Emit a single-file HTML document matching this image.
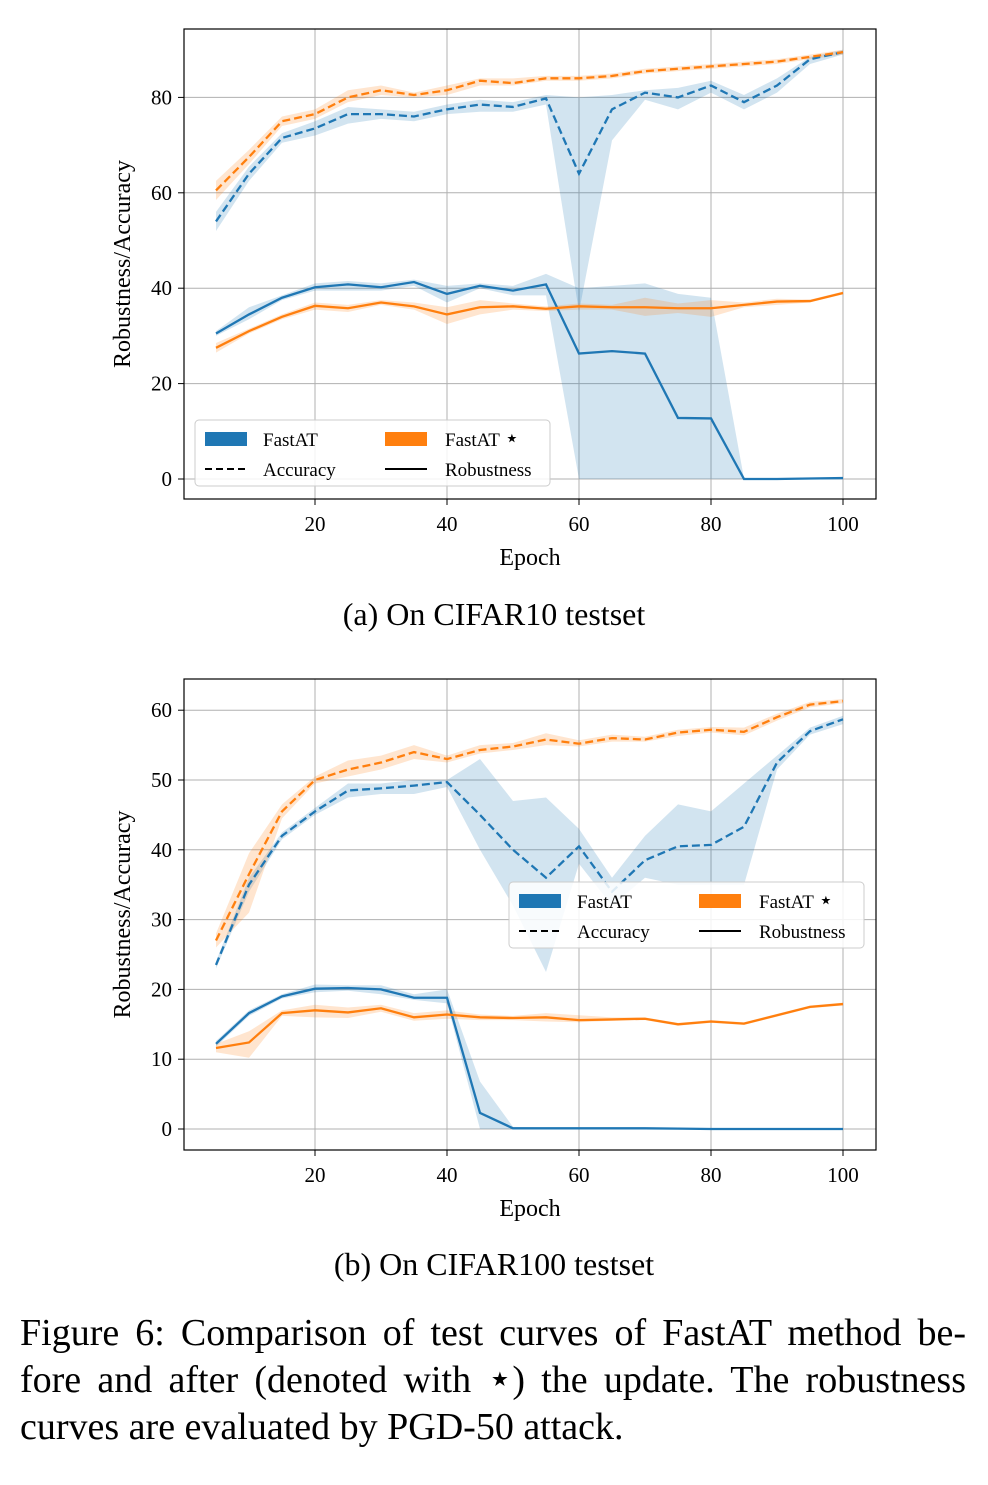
<!DOCTYPE html>
<html><head><meta charset="utf-8"><style>
body{margin:0;background:#fff;width:988px;height:1485px;overflow:hidden;font-family:"Liberation Serif",serif}
svg{position:absolute;left:0;top:0}
.cap{position:absolute;left:0;width:988px;text-align:center;font-size:32px}
#fig{position:absolute;left:20px;top:1310px;width:946px;font-size:38px;line-height:47px}
#fig div{text-align:justify;text-align-last:justify;white-space:nowrap}
#fig div.last{text-align-last:left}
.star{font-size:40px;line-height:0}
</style></head><body>
<svg id="svg" width="988" height="1300"></svg>
<div class="cap" style="top:596px">(a) On CIFAR10 testset</div>
<div class="cap" style="top:1246px">(b) On CIFAR100 testset</div>
<div id="fig">
<div>Figure 6: Comparison of test curves of FastAT method be-</div>
<div>fore and after (denoted with <span class="star">⋆</span>) the update. The robustness</div>
<div class="last">curves are evaluated by PGD-50 attack.</div>
</div>
<script>
const epochs=[5,10,15,20,25,30,35,40,45,50,55,60,65,70,75,80,85,90,95,100];
// Chart A (CIFAR10)
const aFastAcc=[54,64,71.5,73.5,76.5,76.5,76,77.5,78.5,78,79.8,64,77.5,81,80,82.5,79,82.5,88,89.5];
const aFastAccLo=[52,62.5,70.5,72,74.5,75.5,75,76.5,77,77,78.5,35,71,79.5,77.5,81,77.5,81,87,89];
const aFastAccHi=[56,65.5,72.5,75,78,77.5,77,78.5,79.5,79,80.5,80,80.5,81.5,82,83.5,80.5,84,88.5,90];
const aStarAcc=[60.5,67.5,75,76.5,80,81.5,80.5,81.5,83.5,83,84,84,84.5,85.5,86,86.5,87,87.5,88.5,89.5];
const aStarAccLo=[58.5,66,74,75.5,79,80.5,80,80.5,82.5,82.5,83.5,83.5,84,85,85.5,86,86.5,87,88,89];
const aStarAccHi=[62.5,69,76,77.5,81.5,82.5,81,82.5,84,84,84.5,84.5,85,86,86.5,87,87.5,88,89,90];
const aFastRob=[30.5,34.5,38,40.2,40.8,40.2,41.3,38.8,40.5,39.5,40.8,26.3,26.8,26.3,12.8,12.7,0,0,0.1,0.2];
const aFastRobLo=[30,33.5,37.5,39.5,39.5,39.5,40.5,37,40,38.5,38.5,0,0,0,0,0,0,0,0,0];
const aFastRobHi=[31,36,38.5,41,41.5,41,41.8,40.5,41,40.5,43,40,40.5,41,38.8,38,0.1,0.1,0.2,0.3];
const aStarRob=[27.5,31,34,36.3,35.8,37,36.2,34.5,36,36.2,35.7,36.2,36,36,35.8,35.8,36.5,37.2,37.3,39];
const aStarRobLo=[26.5,30.5,33.5,35.5,35,36.5,35.5,32.5,34.5,35.5,35.2,35.5,35.5,34.2,34.8,34,36,36.5,37,38.7];
const aStarRobHi=[28.5,31.5,34.5,37,36.5,37.5,37,36,37.5,36.8,36.2,36.8,36.5,38,36.8,37.5,37,37.8,37.6,39.3];
// Chart B (CIFAR100)
const bFastAcc=[23.5,35,42,45.5,48.5,48.8,49.2,49.7,45,40,36,40.5,34,38.5,40.5,40.7,43.3,52.5,57,58.7];
const bFastAccLo=[23,34,41.5,45,47.5,48,48,49,40,32,22.5,38,32,36,35,35,35,51.5,56.5,58];
const bFastAccHi=[24,36,42.5,46,49.5,49.5,50,50,53,47,47.5,43,36,42,46.5,45.5,49.5,53.5,57.5,59.2];
const bStarAcc=[27,36.5,45.5,50,51.5,52.5,54,53,54.3,54.8,55.8,55.2,56,55.8,56.8,57.2,56.9,59,60.8,61.3];
const bStarAccLo=[26,31,44.5,49.5,50.5,51.5,53,52.5,53.8,54.3,55,54.8,55.5,55.5,56.3,56.8,56.4,58.5,60.4,61];
const bStarAccHi=[28,39.5,46.5,50.5,52.8,53.5,55,53.5,55,55.3,56.7,55.7,56.5,56.2,57.2,57.6,57.5,59.5,61.2,61.6];
const bFastRob=[12.2,16.6,19,20.1,20.2,20,18.8,18.8,2.3,0.1,0.1,0.1,0.1,0.1,0.05,0,0,0,0,0];
const bFastRobLo=[11.8,16.2,18.7,19.6,19.8,19.3,18.5,18,0,0,0,0,0,0,0,0,0,0,0,0];
const bFastRobHi=[12.6,17,19.3,20.7,20.6,20.6,19.3,20,6.8,0.3,0.2,0.2,0.2,0.2,0.1,0.1,0.1,0.1,0.1,0.1];
const bStarRob=[11.6,12.4,16.6,17,16.7,17.3,16,16.4,16,15.9,16,15.6,15.7,15.8,15,15.4,15.1,16.3,17.5,17.9];
const bStarRobLo=[11,10.2,16.2,16,15.9,16.8,15.5,15.8,15.6,15.6,15.4,15.3,15.5,15.6,14.8,15.2,14.9,16.1,17.3,17.7];
const bStarRobHi=[12.2,14,17,17.8,17.4,17.8,16.6,17,16.4,16.2,16.6,16.3,16,16,15.2,15.6,15.3,16.5,17.7,18.1];
const xTicks=[20,40,60,80,100];
const aYTicks=[0,20,40,60,80];
const bYTicks=[0,10,20,30,40,50,60];

const NS="http://www.w3.org/2000/svg";
const svg=document.getElementById('svg');
function mk(tag,attrs,parent){const e=document.createElementNS(NS,tag);for(const k in attrs)e.setAttribute(k,attrs[k]);(parent||svg).appendChild(e);return e;}
const BLUE="#1f77b4",ORANGE="#ff7f0e";

function chart(cfg){
  const g=mk('g',{});
  
  
  const X=v=>cfg.x0+(v)*cfg.xs;
  const Y=v=>cfg.y0-v*cfg.ys;
  xTicks.forEach(t=>{
    const l=mk('line',{x1:X(t),x2:X(t),y1:cfg.top,y2:cfg.bot,stroke:'#b0b0b0','stroke-width':1},g);
    
    
    mk('line',{x1:X(t),x2:X(t),y1:cfg.bot,y2:cfg.bot+6,stroke:'#000'},g);
    const tx=mk('text',{x:X(t),y:cfg.bot+32,'text-anchor':'middle','font-size':21},g);tx.textContent=t;
    
    
  });
  cfg.yt.forEach(t=>{
    const l=mk('line',{x1:cfg.left,x2:cfg.right,y1:Y(t),y2:Y(t),stroke:'#b0b0b0','stroke-width':1},g);
    
    
    mk('line',{x1:cfg.left-6,x2:cfg.left,y1:Y(t),y2:Y(t),stroke:'#000'},g);
    const tx=mk('text',{x:cfg.left-12,y:Y(t)+7,'text-anchor':'end','font-size':21},g);tx.textContent=t;
    
    
  });
  function band(lo,hi,c,nm){
    let d='M'+epochs.map((e,i)=>X(e)+','+Y(hi[i])).join('L');
    for(let i=epochs.length-1;i>=0;i--)d+='L'+X(epochs[i])+','+Y(lo[i]);
    const p=mk('path',{d:d+'Z',fill:c,'fill-opacity':0.2,stroke:'none'},g);
    
    
  }
  function line(v,c,dash,nm){
    const p=mk('polyline',{points:epochs.map((e,i)=>X(e)+','+Y(v[i])).join(' '),fill:'none',stroke:c,'stroke-width':2.3,'stroke-dasharray':dash?'8,4':'none'},g);
    
    
  }
  const s=cfg.series;
  band(s[0][1],s[0][2],BLUE,'fastat-accuracy-band');
  band(s[1][1],s[1][2],ORANGE,'fastat-star-accuracy-band');
  band(s[2][1],s[2][2],BLUE,'fastat-robustness-band');
  band(s[3][1],s[3][2],ORANGE,'fastat-star-robustness-band');
  line(s[0][0],BLUE,true,'fastat-accuracy-line');
  line(s[1][0],ORANGE,true,'fastat-star-accuracy-line');
  line(s[2][0],BLUE,false,'fastat-robustness-line');
  line(s[3][0],ORANGE,false,'fastat-star-robustness-line');
  mk('rect',{x:cfg.left,y:cfg.top,width:cfg.right-cfg.left,height:cfg.bot-cfg.top,fill:'none',stroke:'#000','stroke-width':1.2},g);
  const xl=mk('text',{x:(cfg.left+cfg.right)/2,y:cfg.bot+66,'text-anchor':'middle','font-size':24},g);xl.textContent='Epoch';
  
  
  const cy=(cfg.top+cfg.bot)/2;
  const yl=mk('text',{x:130,y:cy,'text-anchor':'middle','font-size':24,transform:`rotate(-90 130 ${cy})`},g);yl.textContent='Robustness/Accuracy';
  
  
  const L=cfg.leg;
  const lg=mk('g',{},g);
  
  
  mk('rect',{x:L.x,y:L.y,width:L.w,height:66,rx:4,fill:'#fff','fill-opacity':0.85,stroke:'#ccc'},lg);
  const c2=L.x+190;
  mk('rect',{x:L.x+10,y:L.y+12,width:42,height:14,fill:BLUE},lg);
  mk('rect',{x:c2,y:L.y+12,width:42,height:14,fill:ORANGE},lg);
  mk('line',{x1:L.x+10,x2:L.x+52,y1:L.y+49,y2:L.y+49,stroke:'#000','stroke-width':2,'stroke-dasharray':'7,4'},lg);
  mk('line',{x1:c2,x2:c2+42,y1:L.y+49,y2:L.y+49,stroke:'#000','stroke-width':2},lg);
  [['FastAT',L.x+68,L.y+26],['FastAT ',c2+60,L.y+26],['Accuracy',L.x+68,L.y+56],['Robustness',c2+60,L.y+56]].forEach((a,i)=>{
    const t=mk('text',{x:a[1],y:a[2],'font-size':19},lg);t.textContent=a[0];
    if(i===1){const st=mk('tspan',{'font-size':24},t);st.textContent='⋆';}
    
    
  });
}
chart({name:'chart-cifar10',x0:183,xs:6.6,y0:479,ys:4.77,left:184,right:876,top:29,bot:499,yt:aYTicks,
  series:[[aFastAcc,aFastAccLo,aFastAccHi],[aStarAcc,aStarAccLo,aStarAccHi],[aFastRob,aFastRobLo,aFastRobHi],[aStarRob,aStarRobLo,aStarRobHi]],
  leg:{x:195,y:420,w:355}});
chart({name:'chart-cifar100',x0:183,xs:6.6,y0:1129,ys:6.98,left:184,right:876,top:679,bot:1150,yt:bYTicks,
  series:[[bFastAcc,bFastAccLo,bFastAccHi],[bStarAcc,bStarAccLo,bStarAccHi],[bFastRob,bFastRobLo,bFastRobHi],[bStarRob,bStarRobLo,bStarRobHi]],
  leg:{x:509,y:882,w:355}});
</script>
</body></html>
